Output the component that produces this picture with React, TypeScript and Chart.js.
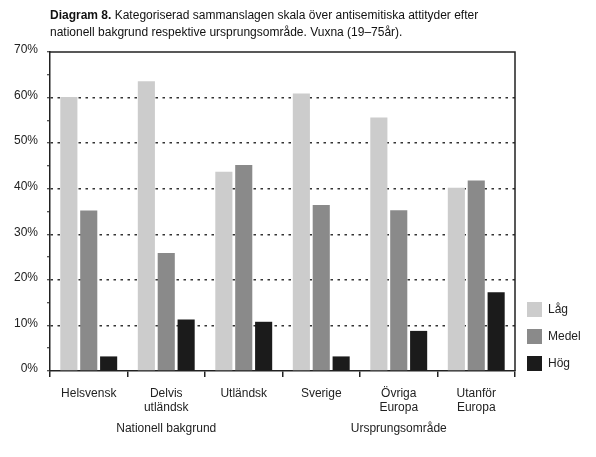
import { useEffect, useRef } from 'react';
import { Chart, registerables } from 'chart.js';

Chart.register(...registerables);

const FONT = '"Liberation Sans", Arial, Helvetica, sans-serif';

const categories = [
  ['Helsvensk'],
  ['Delvis', 'utländsk'],
  ['Utländsk'],
  ['Sverige'],
  ['Övriga', 'Europa'],
  ['Utanför', 'Europa'],
];
const lag = [60.1, 63.6, 43.7, 60.9, 55.6, 40.2];
const medel = [35.2, 25.9, 45.2, 36.4, 35.3, 41.8];
const hog = [3.2, 11.3, 10.8, 3.2, 8.8, 17.3];
const seriesNames = ['Låg', 'Medel', 'Hög'];
const seriesColors = ['#cccccc', '#8a8a8a', '#1b1b1b'];
const groupLabels = ['Nationell bakgrund', 'Ursprungsområde'];
// each group caption sits under the middle category of its group
const groupCenters = [1, 4];

// frame on top/right, group captions under the axis, legend at bottom right
const extrasPlugin = {
  id: 'extras',
  afterDraw(chart: Chart) {
    const { ctx, chartArea } = chart;
    const { left, right, top, bottom } = chartArea;
    ctx.save();
    ctx.strokeStyle = '#222';
    ctx.lineWidth = 1.5;
    ctx.beginPath();
    ctx.moveTo(left, top);
    ctx.lineTo(right, top);
    ctx.lineTo(right, bottom);
    ctx.stroke();

    ctx.fillStyle = '#222';
    ctx.font = `12px ${FONT}`;
    ctx.textAlign = 'center';
    ctx.textBaseline = 'middle';
    const xs = chart.scales.x;
    groupLabels.forEach((g, i) => {
      ctx.fillText(g, xs.getPixelForValue(groupCenters[i]), bottom + 58);
    });

    ctx.textAlign = 'left';
    seriesNames.forEach((name, i) => {
      const y = bottom - 69 + i * 27;
      ctx.fillStyle = seriesColors[i];
      ctx.fillRect(right + 12, y, 15, 15);
      ctx.fillStyle = '#222';
      ctx.fillText(name, right + 33, y + 8);
    });
    ctx.restore();
  },
};

export default function App() {
  const canvasRef = useRef<HTMLCanvasElement>(null);
  const chartRef = useRef<Chart | null>(null);

  useEffect(() => {
    if (!canvasRef.current) return;
    if (chartRef.current) chartRef.current.destroy();

    const datasets = [lag, medel, hog].map((d, i) => ({
      label: seriesNames[i],
      data: d,
      backgroundColor: seriesColors[i],
      borderWidth: 0,
      barPercentage: 0.86,
      categoryPercentage: 0.77,
    }));

    chartRef.current = new Chart(canvasRef.current, {
      type: 'bar',
      data: { labels: categories, datasets },
      options: {
        responsive: false,
        animation: false,
        layout: { padding: { top: 52, right: 81, bottom: 0, left: 0 } },
        plugins: {
          legend: { display: false },
          tooltip: { enabled: false },
        },
        scales: {
          x: {
            offset: true,
            grid: {
              offset: true,
              drawOnChartArea: false,
              drawTicks: true,
              tickLength: 6,
              color: '#222',
              lineWidth: 1.5,
            },
            border: { color: '#222', width: 1.5 },
            ticks: {
              font: { family: FONT, size: 12 },
              color: '#222',
              padding: 9,
              maxRotation: 0,
              autoSkip: false,
            },
            afterFit: (s: any) => {
              s.height = 86;
            },
          },
          y: {
            min: 0,
            max: 70,
            ticks: {
              stepSize: 5,
              callback: (v: any) => (Number(v) % 10 === 0 ? v + '%' : ''),
              font: { family: FONT, size: 12 },
              color: '#222',
              padding: 9,
              labelOffset: -2,
            },
            grid: {
              color: (c: any) =>
                c.tick && c.tick.value % 10 === 0 && c.tick.value > 0 && c.tick.value < 70
                  ? '#333'
                  : 'rgba(0,0,0,0)',
              lineWidth: 1.5,
              tickColor: '#222',
              tickLength: 3,
              tickWidth: 1.2,
            },
            border: { color: '#222', width: 1.5, dash: [2.5, 4.5] },
            afterFit: (s: any) => {
              s.width = 50;
            },
          },
        },
      },
      plugins: [extrasPlugin],
    });

    return () => {
      if (chartRef.current) {
        chartRef.current.destroy();
        chartRef.current = null;
      }
    };
  }, []);

  return (
    <div
      style={{
        position: 'fixed',
        left: 0,
        top: 0,
        width: 596,
        height: 457,
        background: 'white',
        fontFamily: FONT,
      }}
    >
      <div
        style={{
          position: 'absolute',
          left: 50,
          top: 7,
          fontSize: 12,
          lineHeight: '17px',
          color: '#111',
          whiteSpace: 'nowrap',
        }}
      >
        <b>Diagram 8.</b> Kategoriserad sammanslagen skala över antisemitiska attityder efter
        <br />
        nationell bakgrund respektive ursprungsområde. Vuxna (19–75år).
      </div>
      <canvas ref={canvasRef} width={596} height={457} style={{ display: 'block' }} />
    </div>
  );
}
